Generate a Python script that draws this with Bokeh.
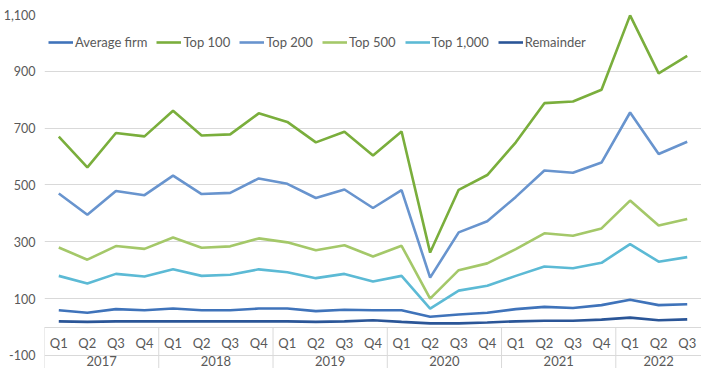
from bokeh.plotting import figure
from bokeh.models import FactorRange, FixedTicker, NumeralTickFormatter, Legend, LegendItem
from bokeh.embed import file_html
from bokeh.resources import INLINE

years = ["2017"] * 4 + ["2018"] * 4 + ["2019"] * 4 + ["2020"] * 4 + ["2021"] * 4 + ["2022"] * 3
quarters = ["Q1", "Q2", "Q3", "Q4"] * 5 + ["Q1", "Q2", "Q3"]

average_firm = [59, 50, 63, 59, 65, 59, 59, 65, 65, 56, 61, 59, 59, 36, 44, 50, 63, 71, 67, 77, 96, 77, 80]
top_100 = [670, 562, 683, 671, 761, 674, 678, 752, 722, 650, 687, 604, 688, 262, 483, 535, 650, 788, 794, 835, 1097, 893, 954]
top_200 = [470, 395, 479, 464, 533, 468, 472, 523, 504, 454, 484, 419, 482, 174, 333, 372, 458, 551, 543, 579, 755, 609, 652]
top_500 = [280, 237, 285, 275, 315, 279, 284, 312, 298, 270, 288, 248, 286, 100, 200, 224, 274, 330, 321, 347, 445, 357, 380]
top_1000 = [180, 153, 187, 178, 203, 180, 184, 203, 193, 172, 187, 160, 180, 65, 128, 145, 180, 213, 207, 226, 292, 230, 246]
remainder = [20, 18, 20, 20, 20, 20, 20, 20, 20, 18, 20, 24, 18, 13, 13, 16, 20, 22, 22, 26, 33, 24, 27]

y_ticks = [-100, 100, 300, 500, 700, 900, 1100]

series = [
    ("Average firm", average_firm, "#3F73BA"),
    ("Top 100", top_100, "#7AAE3C"),
    ("Top 200", top_200, "#6894CE"),
    ("Top 500", top_500, "#A4C869"),
    ("Top 1,000", top_1000, "#5CBAD5"),
    ("Remainder", remainder, "#2A5597"),
]

factors = list(zip(years, quarters))
year_list = list(dict.fromkeys(years))
FONT = "Lato"
GRID = "#D9D9D9"
TXT = "#595959"
Y_BOTTOM = -146

p = figure(
    width=701, height=368,
    x_range=FactorRange(*factors, group_padding=0, factor_padding=0, range_padding=0),
    y_range=(Y_BOTTOM, 1100),
    output_backend="svg", toolbar_location=None,
    min_border_top=14, min_border_bottom=0, min_border_right=0, min_border_left=0,
)
p.outline_line_color = None
p.background_fill_color = "white"
p.border_fill_color = "white"

# year group separators of the category table (from axis at 0 down to bottom)
sep_x = [(year_list[0], "Q1", -0.5)]
for i in range(1, len(year_list)):
    prev_year = year_list[i - 1]
    last_q = [q for y, q in factors if y == prev_year][-1]
    sep_x.append((prev_year, last_q, 0.5))
p.segment(x0=sep_x, y0=[0] * len(sep_x), x1=sep_x, y1=[Y_BOTTOM] * len(sep_x),
          line_color=GRID, line_width=1)

items = []
for name, vals, col in series:
    r = p.line(x=factors, y=vals, line_color=col, line_width=2.6)
    items.append(LegendItem(label=name, renderers=[r]))

legend = Legend(items=items, orientation="horizontal", location=(4, 318),
                label_text_font=FONT, label_text_font_size="13px", label_text_color=TXT,
                glyph_width=25, glyph_height=14, label_standoff=2, spacing=9,
                padding=0, margin=0, background_fill_alpha=0, border_line_color=None,
                label_height=16)
p.add_layout(legend, "center")

# y axis
p.yaxis.ticker = FixedTicker(ticks=y_ticks)
p.yaxis.formatter = NumeralTickFormatter(format="0,0")
p.yaxis.axis_line_color = None
p.yaxis.major_tick_line_color = None
p.yaxis.minor_tick_line_color = None
p.yaxis.major_label_text_font = FONT
p.yaxis.major_label_text_font_size = "12.5px"
p.yaxis.major_label_text_color = TXT
p.yaxis.major_label_standoff = 3

p.ygrid.ticker = FixedTicker(ticks=y_ticks)
p.ygrid.grid_line_color = GRID
p.ygrid.grid_line_width = 1
p.xgrid.grid_line_color = None

# x axis (categorical, crossing at 0)
xa = p.xaxis[0]
xa.fixed_location = 0
xa.axis_line_color = GRID
xa.axis_line_width = 1
xa.major_tick_line_color = None
xa.minor_tick_line_color = None
xa.major_label_text_font = FONT
xa.major_label_text_font_size = "13px"
xa.major_label_text_color = TXT
xa.major_label_standoff = 2
xa.group_text_font = FONT
xa.group_text_font_size = "13px"
xa.group_text_color = TXT
xa.group_text_font_style = "normal"
xa.separator_line_color = None

open("out.html", "w").write(file_html(p, INLINE))
